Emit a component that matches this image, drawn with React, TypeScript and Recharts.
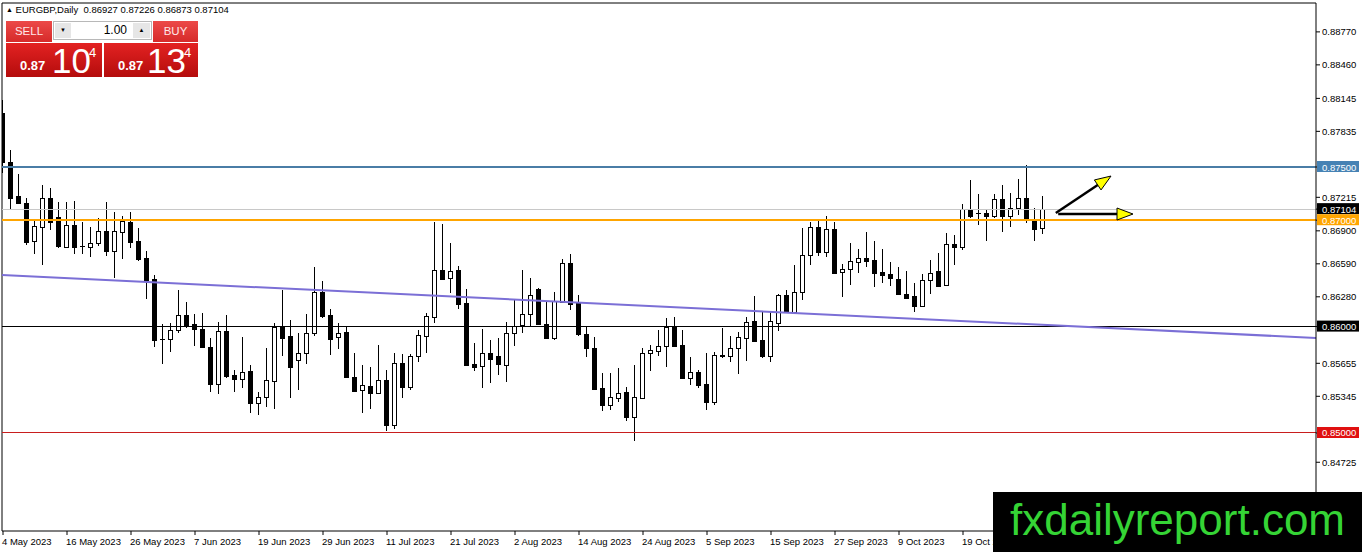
import { ComposedChart, Bar, XAxis, YAxis, ReferenceLine } from "recharts";

// EURGBP daily candles, bar 0 = 4 May 2023, last bar = 2 Nov 2023
const OPEN = [
  0.88008, 0.87547, 0.87227, 0.87162, 0.86804, 0.86936, 0.87209, 0.8703, 0.86748, 0.86955,
  0.86757, 0.86748, 0.86786, 0.86898, 0.8671, 0.86889, 0.86983, 0.86804, 0.86645, 0.86447,
  0.85883, 0.85883, 0.85968, 0.86109, 0.86024, 0.85977, 0.85808, 0.8546, 0.85958, 0.85545,
  0.85507, 0.85582, 0.85282, 0.85338, 0.85488, 0.85996, 0.85911, 0.85686, 0.85752, 0.8594,
  0.86325, 0.86109, 0.85902, 0.85949, 0.85526, 0.85404, 0.85441, 0.85376, 0.85498, 0.85075,
  0.85658, 0.85432, 0.85723, 0.85911, 0.8609, 0.86532, 0.86457, 0.86532, 0.86222, 0.85648,
  0.8563, 0.85752, 0.85723, 0.85639, 0.8594, 0.86015, 0.86118, 0.86353, 0.86024, 0.85893,
  0.86231, 0.86598, 0.86231, 0.8593, 0.85799, 0.85423, 0.85263, 0.85329, 0.85385, 0.8515,
  0.85329, 0.85752, 0.8577, 0.85817, 0.85996, 0.85827, 0.85517, 0.85573, 0.8546, 0.85291,
  0.85723, 0.85723, 0.85799, 0.85893, 0.86052, 0.85874, 0.85723, 0.86034, 0.86297, 0.86137,
  0.86325, 0.86673, 0.86936, 0.86701, 0.86917, 0.86513, 0.86541, 0.86607, 0.86645, 0.86626,
  0.86513, 0.86494, 0.86447, 0.86306, 0.86287, 0.86193, 0.86438, 0.86522, 0.86391, 0.86776,
  0.86748, 0.87105, 0.87067, 0.87068, 0.87039, 0.87199, 0.87039, 0.87115, 0.87209, 0.87011,
  0.86927,
];
const HIGH = [
  0.8813, 0.8766, 0.87434, 0.87209, 0.86992, 0.87331, 0.87303, 0.87171, 0.87171, 0.8718,
  0.86983, 0.86936, 0.87021, 0.87171, 0.87077, 0.87039, 0.87077, 0.86927, 0.8671, 0.86485,
  0.86024, 0.86034, 0.86344, 0.86231, 0.86118, 0.86128, 0.85893, 0.86043, 0.86109, 0.85592,
  0.85902, 0.85639, 0.85385, 0.85799, 0.86034, 0.86344, 0.86062, 0.8594, 0.86118, 0.8656,
  0.86428, 0.86165, 0.86034, 0.85996, 0.85752, 0.85639, 0.8562, 0.85827, 0.85592, 0.85752,
  0.85742, 0.85742, 0.85968, 0.86128, 0.86983, 0.86964, 0.86786, 0.86569, 0.86353, 0.85846,
  0.85977, 0.85874, 0.85893, 0.86043, 0.86259, 0.86532, 0.86457, 0.86363, 0.8624, 0.86325,
  0.86635, 0.86682, 0.86297, 0.85996, 0.85902, 0.85564, 0.85564, 0.85611, 0.85432, 0.85639,
  0.85799, 0.85827, 0.85968, 0.8608, 0.8609, 0.85968, 0.85714, 0.85592, 0.85752, 0.85761,
  0.85987, 0.85911, 0.85949, 0.8609, 0.86287, 0.86137, 0.86137, 0.86306, 0.86344, 0.86579,
  0.86927, 0.86983, 0.86992, 0.87039, 0.86983, 0.86588, 0.86786, 0.86729, 0.86889, 0.86804,
  0.86729, 0.86607, 0.8656, 0.86522, 0.8641, 0.86494, 0.86626, 0.86692, 0.8688, 0.86861,
  0.87152, 0.87378, 0.87246, 0.87096, 0.87246, 0.87331, 0.87256, 0.87387, 0.87519, 0.87115,
  0.87226,
];
const LOW = [
  0.87444, 0.87096, 0.87152, 0.86767, 0.86682, 0.86579, 0.86908, 0.86739, 0.86739, 0.86682,
  0.86682, 0.86654, 0.86757, 0.86663, 0.86457, 0.86635, 0.86739, 0.86616, 0.86259, 0.85808,
  0.85648, 0.85761, 0.8594, 0.85987, 0.85817, 0.85799, 0.85385, 0.85366, 0.85517, 0.85385,
  0.85423, 0.85188, 0.85169, 0.85244, 0.85225, 0.85723, 0.85329, 0.85404, 0.85648, 0.85911,
  0.8608, 0.85733, 0.85789, 0.85517, 0.85385, 0.85188, 0.85225, 0.85366, 0.85018, 0.85037,
  0.85329, 0.85404, 0.85667, 0.85752, 0.86034, 0.86438, 0.86316, 0.86165, 0.8563, 0.85582,
  0.85423, 0.8547, 0.85545, 0.85479, 0.85817, 0.8594, 0.85996, 0.86015, 0.8588, 0.85874,
  0.86222, 0.86156, 0.85911, 0.85714, 0.85404, 0.85206, 0.85216, 0.85291, 0.85112, 0.84924,
  0.8532, 0.85582, 0.85723, 0.8562, 0.85808, 0.8551, 0.85451, 0.85423, 0.85216, 0.85263,
  0.85705, 0.85667, 0.85555, 0.85676, 0.85855, 0.85705, 0.85667, 0.85958, 0.86128, 0.86128,
  0.8625, 0.86579, 0.86663, 0.86654, 0.86494, 0.86278, 0.86391, 0.86504, 0.8656, 0.86372,
  0.8641, 0.86381, 0.86297, 0.86259, 0.86137, 0.86184, 0.86306, 0.86372, 0.86382, 0.86579,
  0.8672, 0.87021, 0.86955, 0.86804, 0.87021, 0.86889, 0.86936, 0.87049, 0.86974, 0.86804,
  0.86873,
];
const CLOSE = [
  0.87547, 0.87209, 0.87162, 0.86795, 0.86945, 0.87209, 0.86982, 0.86757, 0.86955, 0.86748,
  0.8676, 0.86786, 0.86898, 0.8671, 0.86898, 0.86992, 0.86795, 0.86635, 0.86438, 0.85874,
  0.8588, 0.85968, 0.86109, 0.86015, 0.85977, 0.85808, 0.8546, 0.85958, 0.85535, 0.85507,
  0.85573, 0.85282, 0.85338, 0.85498, 0.85996, 0.85893, 0.8562, 0.85752, 0.8594, 0.86325,
  0.86099, 0.85883, 0.8594, 0.85526, 0.85394, 0.85451, 0.85376, 0.85498, 0.85075, 0.85658,
  0.85432, 0.85723, 0.85921, 0.86099, 0.86532, 0.86447, 0.86522, 0.86212, 0.85639, 0.8562,
  0.85752, 0.85695, 0.85648, 0.8594, 0.86005, 0.86118, 0.86297, 0.86024, 0.85893, 0.8624,
  0.86598, 0.86212, 0.8593, 0.85799, 0.85413, 0.85263, 0.85338, 0.85376, 0.8515, 0.85338,
  0.85752, 0.8578, 0.85817, 0.85996, 0.85817, 0.85517, 0.85573, 0.85451, 0.85291, 0.85733,
  0.8573, 0.85799, 0.85902, 0.86043, 0.85864, 0.85723, 0.86052, 0.86297, 0.86137, 0.86325,
  0.86673, 0.86936, 0.86701, 0.86917, 0.86504, 0.86541, 0.86616, 0.86645, 0.86616, 0.86504,
  0.86485, 0.86457, 0.86306, 0.86269, 0.86193, 0.86438, 0.86504, 0.86381, 0.86776, 0.86748,
  0.87105, 0.87039, 0.8707, 0.87039, 0.87199, 0.87039, 0.87115, 0.87209, 0.87002, 0.86917,
  0.87104,
];

const DATE_TICKS = [0, 8, 16, 24, 32, 40, 48, 56, 64, 72, 80, 88, 96, 104, 112, 120];
const DATE_LABELS = [
  "4 May 2023", "16 May 2023", "26 May 2023", "7 Jun 2023", "19 Jun 2023", "29 Jun 2023",
  "11 Jul 2023", "21 Jul 2023", "2 Aug 2023", "14 Aug 2023", "24 Aug 2023", "5 Sep 2023",
  "15 Sep 2023", "27 Sep 2023", "9 Oct 2023", "19 Oct 2023",
];

const PRICE_TICKS = [
  0.8877, 0.8846, 0.88145, 0.87835, 0.87215, 0.869, 0.8659, 0.8628, 0.85655, 0.85345, 0.84725,
];

// horizontal levels and their badges on the price scale
const LEVEL_VALUES = [0.875, 0.86, 0.85, 0.87104, 0.87];
const LEVEL_COLORS = ["#4682B4", "#000000", "#E01010", "#000000", "#FFA500"];
const LEVEL_LINE_COLORS = ["#4A7DA6", "#000000", "#C81E1E", "#C8C8C8", "#FFA500"];
const LEVEL_WIDTHS = [2, 1, 1, 1, 2.5];

const TREND_LINE = [
  { x: -0.125, y: 0.86485 },
  { x: 164.125, y: 0.85893 },
];
const ARROW_UP = [
  { x: 131.6, y: 0.87068 },
  { x: 138.5, y: 0.87415 },
];
const ARROW_RIGHT = [
  { x: 131.9, y: 0.87058 },
  { x: 141.25, y: 0.87058 },
];

const X_DOMAIN = [-0.125, 164.125];
const Y_DOMAIN = [0.840789, 0.890414];

const data = OPEN.map((o, i) => ({
  i,
  open: o,
  high: HIGH[i],
  low: LOW[i],
  close: CLOSE[i],
}));

const FONT = "'Liberation Sans', Arial, sans-serif";

const Candle = (props: any) => {
  const { x, y, width, height, payload } = props;
  if (x == null || payload == null) return null;
  const { open, high, low, close } = payload;
  const top = Math.min(y, y + height);
  const h = Math.abs(height);
  const range = high - low;
  const toY = (v: number) => (range > 0 ? top + ((high - v) / range) * h : top);
  const cx = Math.round(x + width / 2) - 1;
  const bTop = Math.round(toY(Math.max(open, close)));
  const bBot = Math.round(toY(Math.min(open, close)));
  const bull = close >= open;
  return (
    <g shapeRendering="crispEdges">
      <rect x={cx} y={Math.round(top)} width={1} height={Math.max(Math.round(h), 1)} fill="#000" />
      <rect
        x={cx - 2 + 0.5}
        y={bTop + 0.5}
        width={4}
        height={Math.max(bBot - bTop, 0.01)}
        fill={bull ? "#fff" : "#000"}
        stroke="#000"
        strokeWidth={1}
      />
    </g>
  );
};

const PriceTick = (props: any) => {
  const { x, y, payload } = props;
  const v = payload.value as number;
  const k = LEVEL_VALUES.indexOf(v);
  const label = v.toFixed(5);
  if (k >= 0) {
    return (
      <g>
        <rect x={x - 5} y={y - 6} width={42} height={11} fill={LEVEL_COLORS[k]} />
        <text x={x} y={y} dy={3.5} fill="#fff" fontSize={9.5} fontFamily={FONT}>
          {label}
        </text>
      </g>
    );
  }
  return (
    <text x={x} y={y} dy={3.5} fill="#000" fontSize={9.5} fontFamily={FONT}>
      {label}
    </text>
  );
};

const DateTick = (props: any) => {
  const { x, y, payload } = props;
  const k = DATE_TICKS.indexOf(payload.value);
  return (
    <text x={x - 1} y={y} dy={8} fill="#000" fontSize={9.5} fontFamily={FONT} textAnchor="start">
      {DATE_LABELS[k]}
    </text>
  );
};

const Arrow = (props: any) => {
  const { x1, y1, x2, y2 } = props;
  if (x1 == null) return null;
  const a = Math.atan2(y2 - y1, x2 - x1);
  const len = 16;
  const half = 6;
  const bx = x2 - len * Math.cos(a);
  const by = y2 - len * Math.sin(a);
  const px = -Math.sin(a) * half;
  const py = Math.cos(a) * half;
  return (
    <g>
      <line x1={x1} y1={y1} x2={bx} y2={by} stroke="#000" strokeWidth={2.5} />
      <polygon
        points={`${x2},${y2} ${bx + px},${by + py} ${bx - px},${by - py}`}
        fill="#FFFF00"
        stroke="#000"
        strokeWidth={1}
      />
    </g>
  );
};

const redBtn: React.CSSProperties = {
  position: "absolute",
  background: "linear-gradient(#ec4a48, #d62a2a)",
  color: "#ffe8e8",
  fontFamily: FONT,
  fontSize: 11.5,
  textAlign: "center",
  lineHeight: "21px",
  height: 21,
  top: 21,
};

const bigBox: React.CSSProperties = {
  position: "absolute",
  top: 43,
  height: 34,
  background: "linear-gradient(#e32222, #b40c0c)",
  color: "#fff",
  fontFamily: FONT,
};

export default function App() {
  return (
    <div style={{ position: "absolute", left: 0, top: 0, width: 1362, height: 552, background: "#fff" }}>
      <ComposedChart width={1362} height={552} data={data} margin={{ top: 3, right: 0, bottom: 0, left: 2 }}>
        <XAxis
          dataKey="i"
          type="number"
          domain={X_DOMAIN}
          allowDataOverflow
          ticks={DATE_TICKS}
          interval={0}
          height={21}
          tickSize={4}
          tickMargin={2}
          stroke="#000"
          tick={<DateTick />}
        />
        <YAxis
          orientation="right"
          type="number"
          domain={Y_DOMAIN}
          allowDataOverflow
          ticks={[...PRICE_TICKS, ...LEVEL_VALUES]}
          interval={0}
          width={46}
          tickSize={4}
          tickMargin={2}
          stroke="#000"
          tick={<PriceTick />}
        />
        <ReferenceLine x={X_DOMAIN[0]} stroke="#000" ifOverflow="visible" />
        <ReferenceLine y={Y_DOMAIN[1]} stroke="#000" ifOverflow="visible" />
        {LEVEL_VALUES.map((v, k) => (
          <ReferenceLine
            key={v}
            y={v}
            stroke={LEVEL_LINE_COLORS[k]}
            strokeWidth={LEVEL_WIDTHS[k]}
            shapeRendering="crispEdges"
          />
        ))}
        <ReferenceLine
          segment={TREND_LINE}
          stroke="#7B6FD6"
          strokeWidth={2}
          ifOverflow="visible"
        />
        <Bar
          dataKey={(d: any) => [d.low, d.high]}
          barSize={5}
          shape={<Candle />}
          isAnimationActive={false}
        />
        <ReferenceLine segment={ARROW_UP} shape={(p: any) => <Arrow {...p} />} ifOverflow="visible" />
        <ReferenceLine segment={ARROW_RIGHT} shape={(p: any) => <Arrow {...p} />} ifOverflow="visible" />
      </ComposedChart>

      {/* header line */}
      <div
        style={{
          position: "absolute",
          left: 6,
          top: 4,
          fontFamily: FONT,
          fontSize: 9.5,
          color: "#000",
          whiteSpace: "pre",
        }}
      >
        <span style={{ fontSize: 7, position: "relative", top: -1 }}>▲</span>
        {" EURGBP,Daily  0.86927 0.87226 0.86873 0.87104"}
      </div>

      {/* one click trading panel */}
      <div style={{ ...redBtn, left: 6, width: 46 }}>SELL</div>
      <div
        style={{
          position: "absolute",
          left: 53,
          top: 21,
          width: 99,
          height: 19,
          background: "#fff",
          border: "1px solid #b8b8b8",
          boxSizing: "border-box",
        }}
      >
        <div
          style={{
            position: "absolute",
            left: 1,
            top: 1,
            width: 16,
            height: 15,
            background: "#e6e6e6",
            fontSize: 6,
            textAlign: "center",
            lineHeight: "15px",
            fontFamily: FONT,
          }}
        >
          ▼
        </div>
        <div
          style={{
            position: "absolute",
            right: 24,
            top: 0,
            fontFamily: FONT,
            fontSize: 12,
            lineHeight: "17px",
          }}
        >
          1.00
        </div>
        <div
          style={{
            position: "absolute",
            right: 1,
            top: 1,
            width: 17,
            height: 15,
            background: "#e6e6e6",
            fontSize: 6,
            textAlign: "center",
            lineHeight: "15px",
            fontFamily: FONT,
          }}
        >
          ▲
        </div>
      </div>
      <div style={{ ...redBtn, left: 153, width: 45 }}>BUY</div>

      <div style={{ ...bigBox, left: 6, width: 96 }}>
        <span style={{ position: "absolute", left: 14, top: 15, fontSize: 13, fontWeight: "bold" }}>0.87</span>
        <span style={{ position: "absolute", left: 46, top: -2, fontSize: 35 }}>10</span>
        <span style={{ position: "absolute", left: 83, top: 2, fontSize: 13 }}>4</span>
      </div>
      <div style={{ ...bigBox, left: 104, width: 94 }}>
        <span style={{ position: "absolute", left: 14, top: 15, fontSize: 13, fontWeight: "bold" }}>0.87</span>
        <span style={{ position: "absolute", left: 43, top: -2, fontSize: 35 }}>13</span>
        <span style={{ position: "absolute", left: 80, top: 2, fontSize: 13 }}>4</span>
      </div>

      {/* watermark */}
      <svg style={{ position: "absolute", left: 993, top: 492 }} width={369} height={60}>
        <rect x={0} y={0} width={369} height={60} fill="#000" />
        <text x={17} y={43} fill="#35D435" fontSize={44} fontFamily={FONT}>
          fxdailyreport.com
        </text>
      </svg>
    </div>
  );
}
